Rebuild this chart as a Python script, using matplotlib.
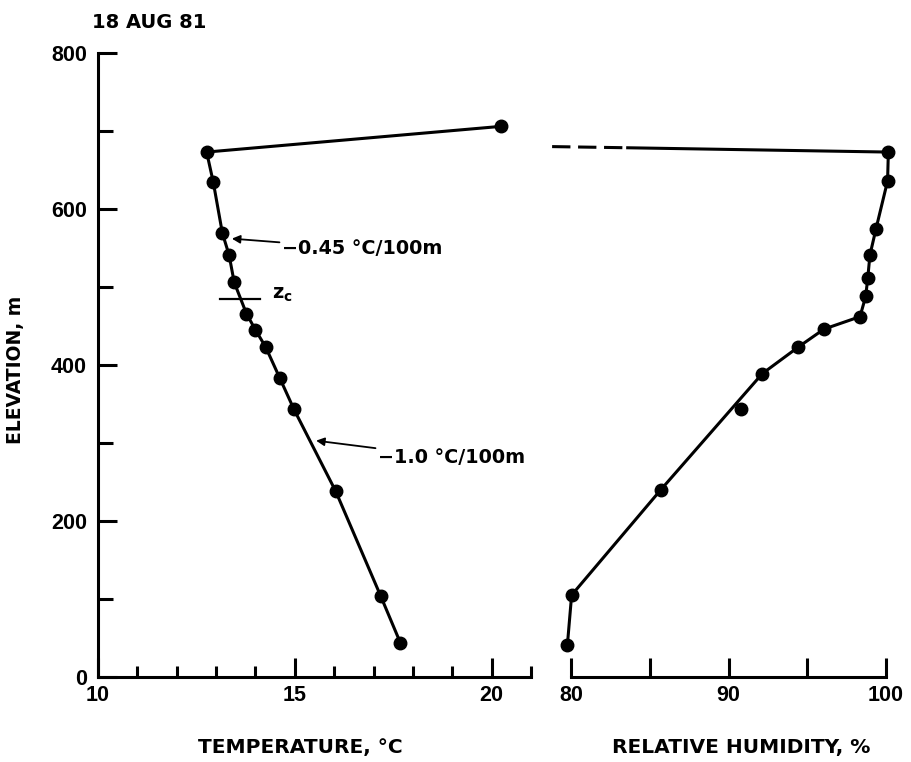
import matplotlib
matplotlib.use("Agg")
import matplotlib.pyplot as plt
from matplotlib.ticker import FixedLocator

# ---- data ----
temp_elev = [706, 673, 634, 569, 541, 506, 466, 445, 423, 383, 343, 238, 104, 44]
temp_c = [20.25, 12.76, 12.93, 13.16, 13.33, 13.46, 13.77, 14.0, 14.26, 14.62, 14.98, 16.04, 17.18, 17.68]

rh_elev = [673, 636, 575, 541, 511, 488, 462, 446, 423, 389, 240, 105, 41]
rh_pct = [100.15, 100.1, 99.37, 98.98, 98.84, 98.71, 98.35, 96.06, 94.43, 92.15, 85.7, 80.04, 79.77]
rh_off_elev = [343]
rh_off_pct = [90.77]

# connector at the top of the RH profile (dashed part, then solid part)
rh_dash_pct = [78.8, 83.6]
rh_dash_elev = [680, 678.5]
rh_solid_pct = [83.6, 100.15]
rh_solid_elev = [678.5, 673]

zc_elev = 484
zc_span = [13.1, 14.12]

temp_ticks = list(range(10, 22))
temp_labels = [10, 15, 20]
rh_ticks = [80, 85, 90, 95, 100]
rh_labels = [80, 90, 100]
elev_major = [0, 200, 400, 600, 800]
elev_minor = [100, 300, 500, 700]

W, H = 911, 762
fig = plt.figure(figsize=(W / 100, H / 100), dpi=100)

LW = 2.2
tickfont = dict(family="Liberation Sans", weight="bold", size=15.5)
textfont = dict(family="DejaVu Sans", weight="bold")

y0, y1 = 677, 53
axT = fig.add_axes([98 / W, (H - y0) / H, (531 - 98) / W, (y0 - y1) / H])
axR = fig.add_axes([571 / W, (H - y0) / H, (886 - 571) / W, (y0 - y1) / H])

for ax in (axT, axR):
    ax.set_ylim(0, 800)
    ax.patch.set_alpha(0)
    for s in ("top", "right"):
        ax.spines[s].set_visible(False)
    ax.spines["bottom"].set_linewidth(LW)
    ax.spines["left"].set_linewidth(LW)

axT.set_xlim(10, 21)
axR.set_xlim(80, 100)
axR.spines["left"].set_visible(False)

# temperature axes ticks
axT.xaxis.set_major_locator(FixedLocator(temp_labels))
axT.xaxis.set_minor_locator(FixedLocator([t for t in temp_ticks if t not in temp_labels]))
axT.set_xticklabels([str(v) for v in temp_labels])
axT.yaxis.set_major_locator(FixedLocator(elev_major))
axT.yaxis.set_minor_locator(FixedLocator(elev_minor))
axT.set_yticklabels([str(v) for v in elev_major])
axT.tick_params(axis="both", which="major", direction="in", length=13.5, width=LW)
axT.tick_params(axis="both", which="minor", direction="in", length=8, width=LW)
axT.tick_params(axis="y", which="minor", length=10.5)
axT.tick_params(axis="x", pad=6)
axT.tick_params(axis="y", pad=8)

axR.xaxis.set_major_locator(FixedLocator(rh_ticks))
axR.set_xticklabels([str(v) if v in rh_labels else "" for v in rh_ticks])
axR.tick_params(axis="x", which="major", direction="in", length=13.5, width=LW, pad=6)
axR.tick_params(axis="y", left=False, labelleft=False)

for lab in axT.get_xticklabels() + axT.get_yticklabels() + axR.get_xticklabels():
    lab.set_fontfamily(tickfont["family"])
    lab.set_fontweight(tickfont["weight"])
    lab.set_fontsize(tickfont["size"])

# data
axT.plot(temp_c, temp_elev, color="black", lw=LW, marker="o", ms=9, clip_on=False)
axR.plot(rh_pct, rh_elev, color="black", lw=LW, marker="o", ms=9, clip_on=False)
axR.plot(rh_off_pct, rh_off_elev, color="black", ls="none", marker="o", ms=9, clip_on=False)
axR.plot(rh_dash_pct, rh_dash_elev, color="black", lw=LW, ls=(0, (6, 2.5)), clip_on=False)
axR.plot(rh_solid_pct, rh_solid_elev, color="black", lw=LW, clip_on=False)

# z_c marker
axT.plot(zc_span, [zc_elev, zc_elev], color="black", lw=1.6)
axT.text(14.41, 491, r"z$_{\mathregular{c}}$", fontsize=14, va="center", ha="left", **textfont)

# lapse-rate annotations
arrow = dict(arrowstyle="-|>", lw=1.3, color="black", mutation_scale=12, shrinkA=0, shrinkB=0)
axT.annotate("\u22120.45 \u00b0C/100m", xy=(13.40, 562), xytext=(14.68, 549),
             fontsize=13.8, va="center", ha="left", arrowprops=arrow, **textfont)
axT.annotate("\u22121.0 \u00b0C/100m", xy=(15.54, 303), xytext=(17.12, 281),
             fontsize=13.8, va="center", ha="left", arrowprops=arrow, **textfont)

# titles / labels
fig.text(92 / W, 1 - 22 / H, "18 AUG 81", fontsize=14, ha="left", va="center", **textfont)
fig.text(16 / W, 1 - 370 / H, "ELEVATION, m", rotation=90, fontsize=13.5, ha="center", va="center", **textfont)
fig.text(300 / W, 1 - 748 / H, "TEMPERATURE, \u00b0C", fontsize=14.5, ha="center", va="center", **textfont)
fig.text(741 / W, 1 - 748 / H, "RELATIVE HUMIDITY, %", fontsize=14.5, ha="center", va="center", **textfont)

fig.savefig("out.png", dpi=100)
